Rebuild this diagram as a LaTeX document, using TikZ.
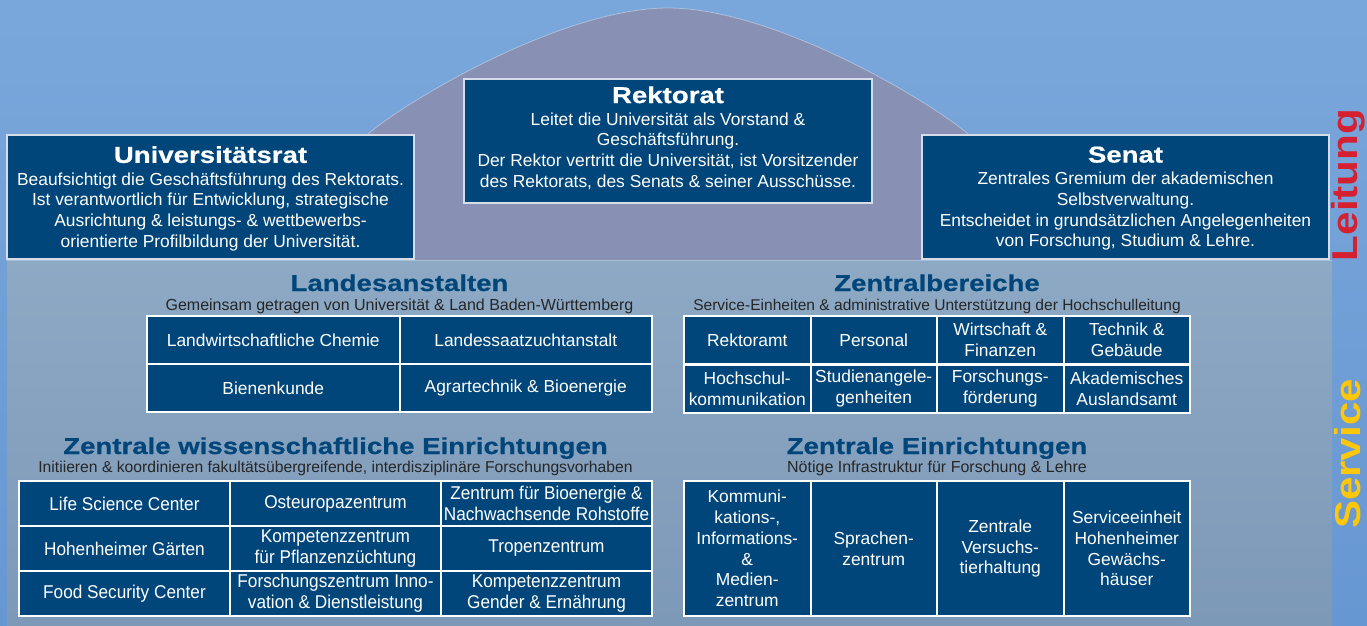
\documentclass[tikz,border=0pt]{standalone}
\usepackage{fontspec}
\setmainfont{Liberation Sans}
\newfontfamily\titlefont[FakeStretch=1.2,FakeBold=0.6]{Liberation Sans Bold}
\newfontfamily\narrowfont[FakeStretch=0.93]{Liberation Sans}
\newfontfamily\sidefont[FakeStretch=1.17]{Liberation Sans Bold}
\definecolor{boxblue}{HTML}{00467A}
\definecolor{boxedge}{HTML}{D5DEE8}
\definecolor{bgtop}{HTML}{7AA7DB}
\definecolor{bgbot}{HTML}{6797D2}
\definecolor{archc}{HTML}{8891B4}
\definecolor{paneltop}{HTML}{8DA9C4}
\definecolor{panelbot}{HTML}{7D99B8}
\definecolor{subgray}{HTML}{262626}
\definecolor{leitred}{HTML}{D42030}
\definecolor{servyellow}{HTML}{FFC709}
\newcommand{\btitle}[1]{{\titlefont\fontsize{23}{23}\selectfont #1}}
\begin{document}
\begin{tikzpicture}[x=1pt,y=-1pt,
  mainbox/.style={draw=boxedge,line width=1.2pt,fill=boxblue,inner sep=0pt,
    minimum width=407pt,minimum height=124pt},
  maintext/.style={text=white,align=center,inner sep=0pt,font=\fontsize{17.4}{20.7}\selectfont},
  sectitle/.style={anchor=base,text=boxblue,inner sep=0pt,font=\titlefont\fontsize{23}{23}\selectfont},
  secsub/.style={anchor=base,text=subgray,inner sep=0pt,font=\fontsize{16}{18}\selectfont},
  cell/.style={draw=white,line width=2pt,fill=boxblue,text=white,align=center,inner sep=0pt,
    font=\fontsize{17.4}{20.7}\selectfont},
  lacell/.style={cell,minimum width=252.5pt,minimum height=48pt},
  zbcell/.style={cell,minimum width=126.5pt,minimum height=48pt},
  zwcell/.style={cell,minimum width=211pt,minimum height=45pt,font=\narrowfont\fontsize{18.5}{21}\selectfont},
  zecell/.style={cell,minimum width=126.5pt,minimum height=135pt},
  sidelabel/.style={rotate=90,inner sep=0pt,font=\sidefont\fontsize{36}{36}\selectfont}
]
\useasboundingbox (0,0) rectangle (1367,625);
% background
\fill[top color=bgtop,bottom color=bgbot] (0,0) rectangle (1367,625);
\fill[archc] (367,135) .. controls (400,105) and (560,8) .. (668,8)
  .. controls (776,8) and (936,105) .. (969,135) -- (969,262) -- (367,262) -- cycle;
\draw[white,opacity=0.35,line width=0.8pt] (367,135) .. controls (400,105) and (560,8) .. (668,8)
  .. controls (776,8) and (936,105) .. (969,135);
\fill[top color=paneltop,bottom color=panelbot] (7,260) rectangle (1332,625);
\draw[white,opacity=0.25,line width=1pt] (7,260) -- (1332,260);

% Leitung boxes
\node[mainbox] (urat) at (210.5,197) {};
\node[maintext] (urattext) at (210.5,198.5) {\btitle{Universitätsrat}\\[1.5pt]
  Beaufsichtigt die Geschäftsführung des Rektorats.\\
  Ist verantwortlich für Entwicklung, strategische\\
  Ausrichtung \& leistungs- \& wettbewerbs-\\
  orientierte Profilbildung der Universität.};
\node[mainbox,minimum width=408pt] (rekt) at (668,141) {};
\node[maintext] (rekttext) at (668,138) {\btitle{Rektorat}\\[1.5pt]
  Leitet die Universität als Vorstand \&\\
  Geschäftsführung.\\
  Der Rektor vertritt die Universität, ist Vorsitzender\\
  des Rektorats, des Senats \& seiner Ausschüsse.};
\node[mainbox] (senat) at (1125.5,197) {};
\node[maintext] (senattext) at (1125.5,198.5) {\btitle{Senat}\\[1.5pt]
  Zentrales Gremium der akademischen\\
  Selbstverwaltung.\\
  Entscheidet in grundsätzlichen Angelegenheiten\\
  von Forschung, Studium \& Lehre.};

% side labels
\node[sidelabel,text=leitred] (leitung) at (1348,185) {Leitung};
\node[sidelabel,text=servyellow] (service) at (1348,454) {Service};

% Landesanstalten
\node[sectitle] (lat) at (399.5,291) {Landesanstalten};
\node[secsub] (las) at (399.5,310) {Gemeinsam getragen von Universität \& Land Baden-Württemberg};
\node[lacell] (la11) at (273.25,340) {Landwirtschaftliche Chemie};
\node[lacell] (la12) at (525.75,340) {Landessaatzuchtanstalt};
\node[lacell] (la21) at (273.25,388) {Bienenkunde};
\node[lacell] (la22) at (525.75,388) {Agrartechnik \& Bioenergie};

% Zentralbereiche
\node[sectitle] (zbt) at (937,291) {Zentralbereiche};
\node[secsub,font=\fontsize{15.55}{18}\selectfont] (zbs) at (937,310) {Service-Einheiten \& administrative Unterstützung der Hochschulleitung};
\node[zbcell] (zb11) at (747.25,340) {Rektoramt};
\node[zbcell] (zb12) at (873.75,340) {Personal};
\node[zbcell] (zb13) at (1000.25,340) {Wirtschaft \&\\Finanzen};
\node[zbcell] (zb14) at (1126.75,340) {Technik \&\\Gebäude};
\node[zbcell] (zb21) at (747.25,388.5) {Hochschul-\\kommunikation};
\node[zbcell] (zb22) at (873.75,388.5) {Studienangele-\\genheiten};
\node[zbcell] (zb23) at (1000.25,388.5) {Forschungs-\\förderung};
\node[zbcell] (zb24) at (1126.75,388.5) {Akademisches\\Auslandsamt};

% Zentrale wissenschaftliche Einrichtungen
\node[sectitle] (zwt) at (335.5,454) {Zentrale wissenschaftliche Einrichtungen};
\node[secsub,font=\fontsize{15.7}{18}\selectfont] (zws) at (335.5,472) {Initiieren \& koordinieren fakultätsübergreifende, interdisziplinäre Forschungsvorhaben};
\node[zwcell] (zw11) at (124.5,503.5) {Life Science Center};
\node[zwcell] (zw12) at (335.5,503.5) {Osteuropazentrum};
\node[zwcell] (zw13) at (546.5,503.5) {Zentrum für Bioenergie \&\\Nachwachsende Rohstoffe};
\node[zwcell] (zw21) at (124.5,548.5) {Hohenheimer Gärten};
\node[zwcell] (zw22) at (335.5,548.5) {Kompetenzzentrum\\für Pflanzenzüchtung};
\node[zwcell] (zw23) at (546.5,548.5) {Tropenzentrum};
\node[zwcell] (zw31) at (124.5,593.5) {Food Security Center};
\node[zwcell] (zw32) at (335.5,593.5) {Forschungszentrum Inno-\\vation \& Dienstleistung};
\node[zwcell] (zw33) at (546.5,593.5) {Kompetenzzentrum\\Gender \& Ernährung};

% Zentrale Einrichtungen
\node[sectitle] (zet) at (937,454) {Zentrale Einrichtungen};
\node[secsub] (zes) at (937,472) {Nötige Infrastruktur für Forschung \& Lehre};
\node[zecell] (ze1) at (747.25,548.5) {Kommuni-\\kations-,\\Informations-\\\&\\Medien-\\zentrum};
\node[zecell] (ze2) at (873.75,548.5) {Sprachen-\\zentrum};
\node[zecell] (ze3) at (1000.25,548.5) {Zentrale\\Versuchs-\\tierhaltung};
\node[zecell] (ze4) at (1126.75,548.5) {Serviceeinheit\\Hohenheimer\\Gewächs-\\häuser};
\end{tikzpicture}
\end{document}
